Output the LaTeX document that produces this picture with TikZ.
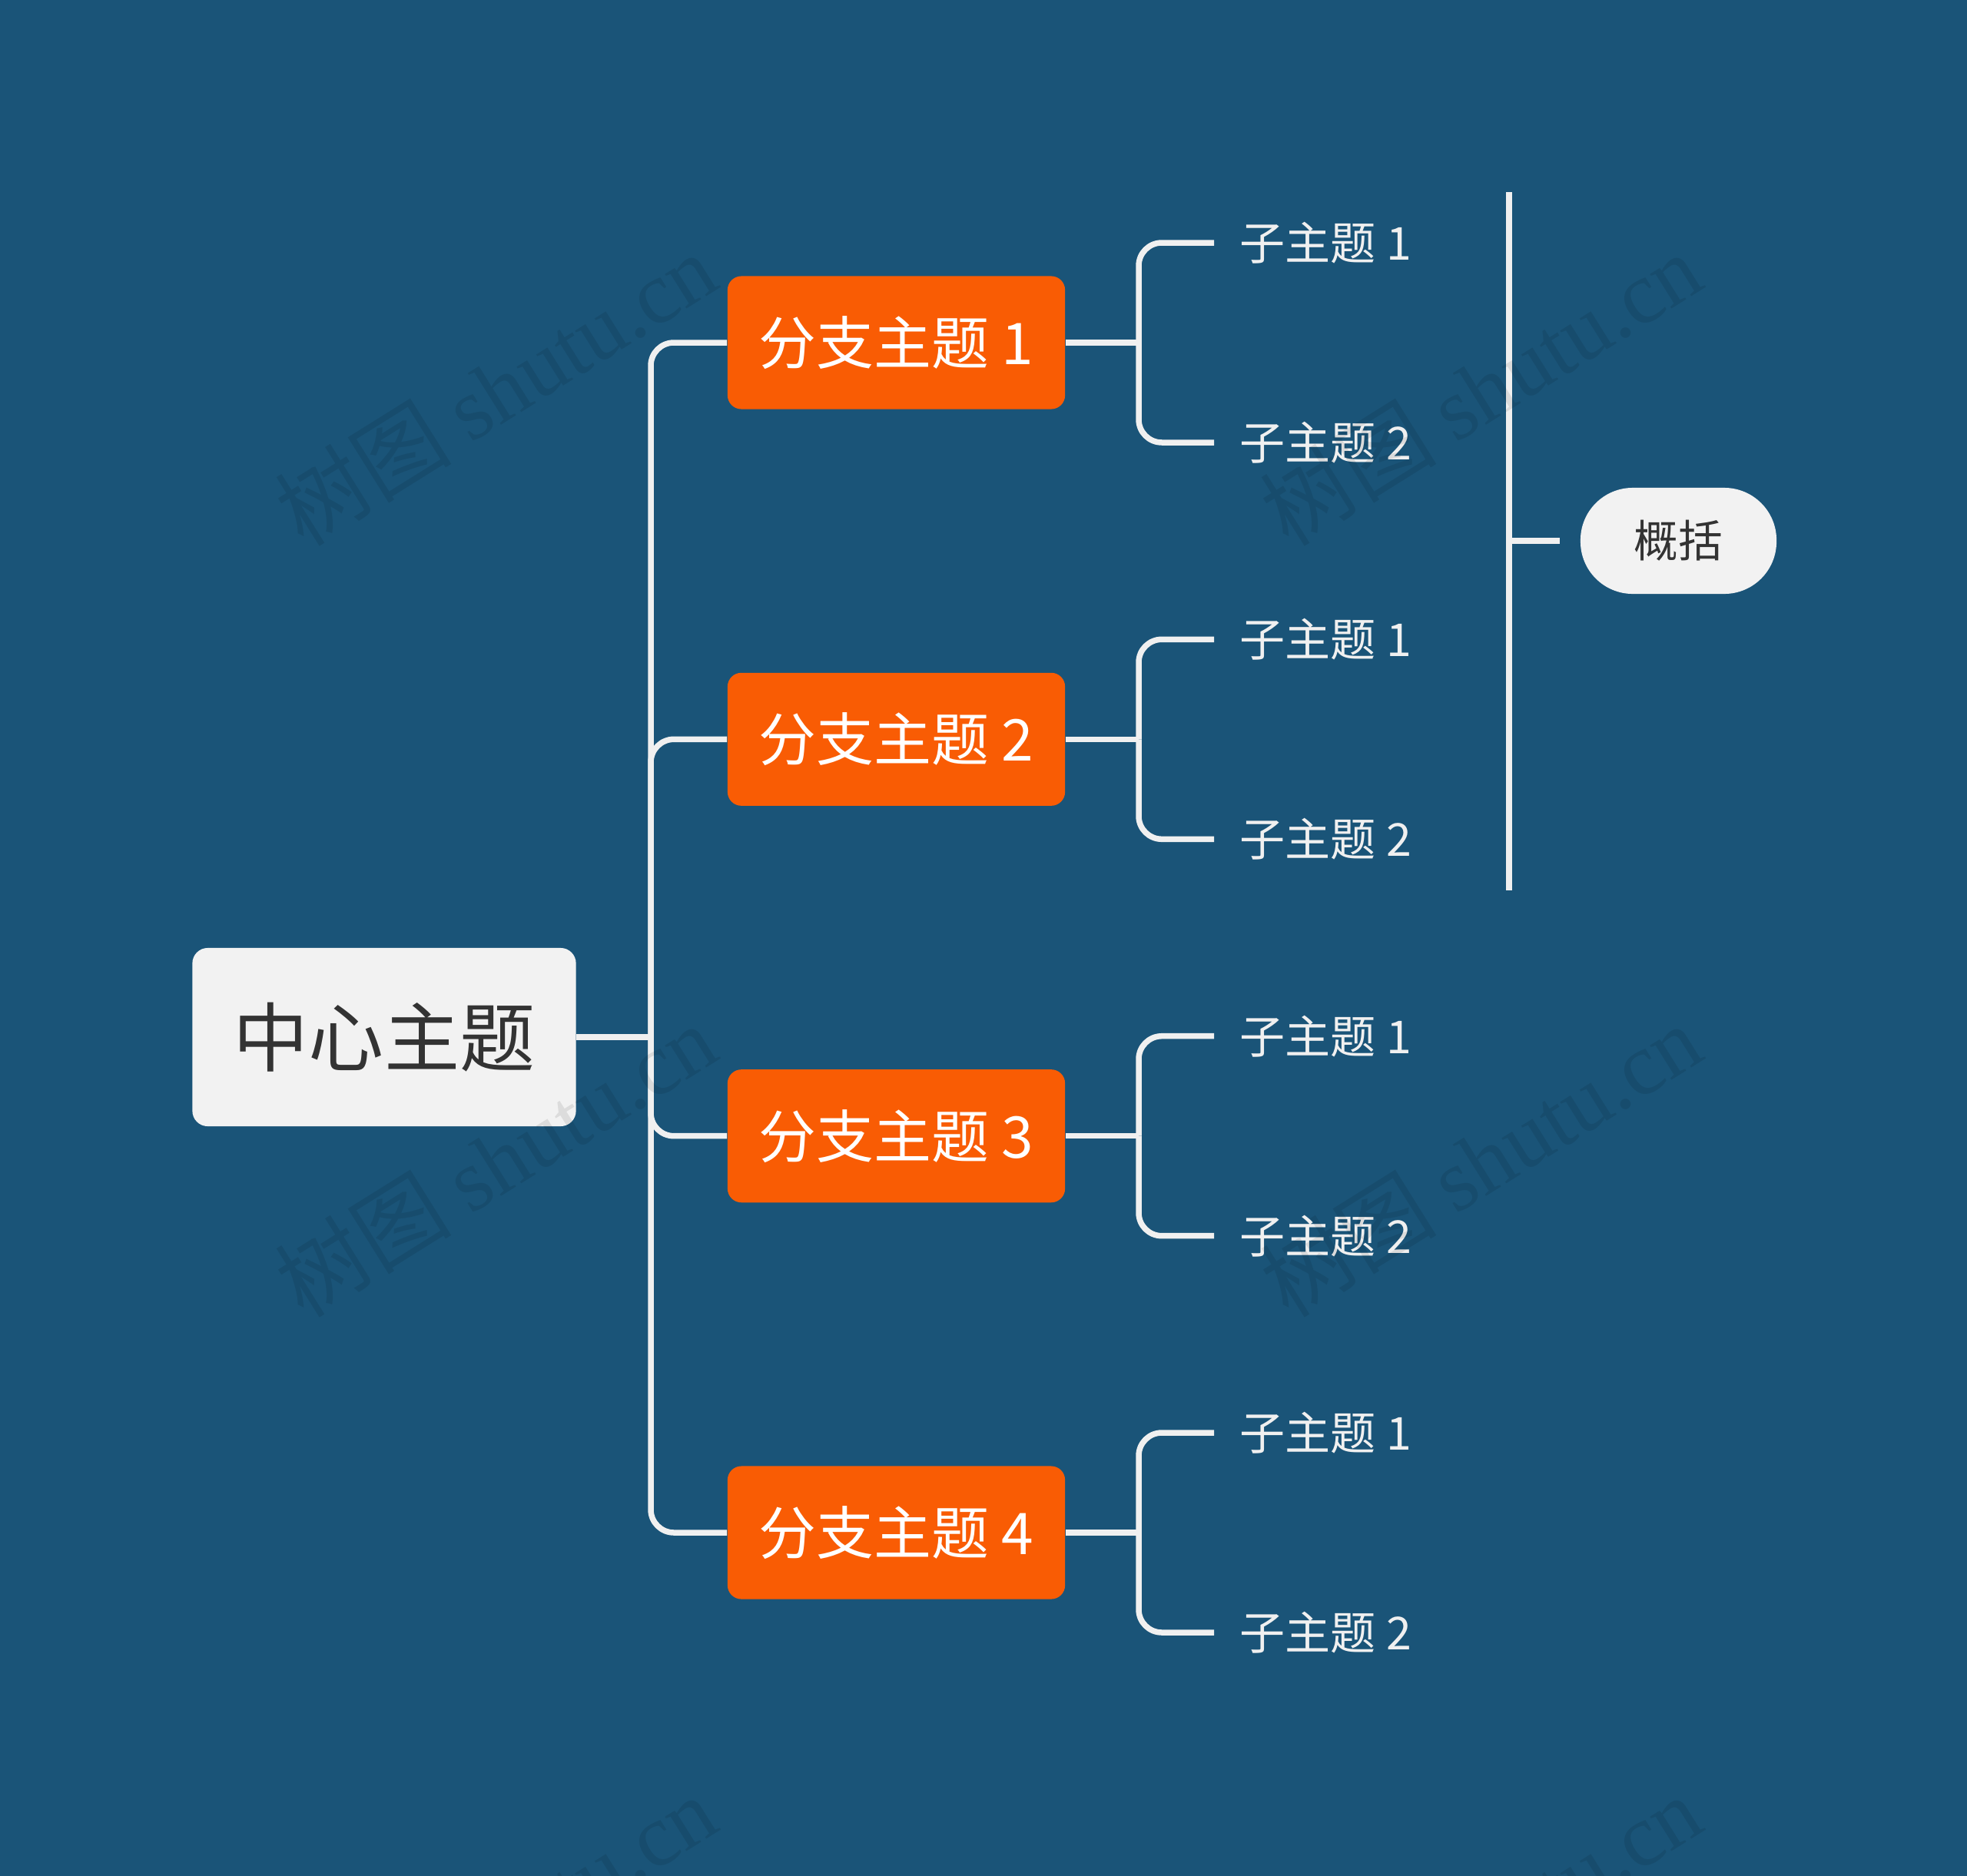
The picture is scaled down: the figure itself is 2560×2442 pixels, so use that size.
\documentclass[tikz,border=0pt]{standalone}
\usepackage{fontspec}
\setmainfont{Noto Sans CJK SC}
\newfontfamily\wmlatin{Liberation Serif}
\newfontfamily\wmcjk{Noto Sans CJK SC}
\definecolor{bgblue}{HTML}{1A5478}
\definecolor{branchorange}{HTML}{F95C04}
\definecolor{nodegray}{HTML}{F2F2F2}
\definecolor{darktext}{HTML}{333333}
\definecolor{linecol}{HTML}{F0F0F0}
\tikzset{
  centralbox/.style={fill=nodegray, rounded corners=0.2cm, minimum width=4.99cm, minimum height=2.32cm, inner sep=0pt, text=darktext, font=\fontsize{27.9}{32}\selectfont},
  branchbox/.style={fill=branchorange, rounded corners=0.18cm, minimum width=4.39cm, minimum height=1.73cm, inner sep=0pt, text=white, font=\fontsize{21.3}{25}\selectfont},
  childtext/.style={anchor=west, inner xsep=0.33cm, inner ysep=0pt, text=linecol, font=\fontsize{16.8}{20}\selectfont},
  summarybox/.style={fill=nodegray, rounded corners=0.68cm, minimum width=2.55cm, minimum height=1.38cm, inner sep=0pt, text=darktext, font=\fontsize{16.4}{20}\selectfont},
  link/.style={draw=linecol, line width=0.075cm, rounded corners=0.3cm},
  straight/.style={draw=linecol, line width=0.075cm},
  watermark/.style={rotate=32, text=black, opacity=0.09, inner sep=0pt, font=\fontsize{32.7}{36}\selectfont}
}
\begin{document}
\begin{tikzpicture}[x=0.01cm, y=-0.01cm]
\fill[bgblue] (0,0) rectangle (2560,2442);
\useasboundingbox (0,0) rectangle (2560,2442);

% central topic
\node[centralbox] (center) at (500,1350) {中心主题};
\coordinate (hub) at (847,1350);

% branches
\node[branchbox] (b1) at (1166.5,446) {分支主题 1};
\node[branchbox] (b2) at (1166.5,962.3) {分支主题 2};
\node[branchbox] (b3) at (1166.5,1478.7) {分支主题 3};
\node[branchbox] (b4) at (1166.5,1995) {分支主题 4};

\draw[straight] (center.east) -- (hub);
\draw[link] (hub) |- (b1.west);
\draw[link] (hub) |- (b2.west);
\draw[link] (hub) |- (b3.west);
\draw[link] (hub) |- (b4.west);

% children
\node[childtext] (c11) at (1580,316) {子主题 1};
\node[childtext] (c12) at (1580,576) {子主题 2};
\node[childtext] (c21) at (1580,832.3) {子主题 1};
\node[childtext] (c22) at (1580,1092.3) {子主题 2};
\node[childtext] (c31) at (1580,1348.7) {子主题 1};
\node[childtext] (c32) at (1580,1608.7) {子主题 2};
\node[childtext] (c41) at (1580,1865) {子主题 1};
\node[childtext] (c42) at (1580,2125) {子主题 2};

\coordinate (j1) at (1482,446);
\coordinate (j2) at (1482,962.3);
\coordinate (j3) at (1482,1478.7);
\coordinate (j4) at (1482,1995);

\draw[straight] (b1.east) -- (j1);
\draw[straight] (b2.east) -- (j2);
\draw[straight] (b3.east) -- (j3);
\draw[straight] (b4.east) -- (j4);
\draw[link] (j1) |- (c11.west);
\draw[link] (j1) |- (c12.west);
\draw[link] (j2) |- (c21.west);
\draw[link] (j2) |- (c22.west);
\draw[link] (j3) |- (c31.west);
\draw[link] (j3) |- (c32.west);
\draw[link] (j4) |- (c41.west);
\draw[link] (j4) |- (c42.west);

% summary
\coordinate (stop) at (1964,250);
\coordinate (sbot) at (1964,1159);
\coordinate (smid) at (1964,704);
\coordinate (send) at (2030,704);
\node[summarybox] (summ) at (2184.5,704) {概括};
\draw[straight] (stop) -- (sbot);
\draw[straight] (smid) -- (send);

% watermarks
\node[watermark] (w1) at (645,506) {{\wmcjk 树图} {\wmlatin shutu.cn}};
\node[watermark] (w2) at (1927,506) {{\wmcjk 树图} {\wmlatin shutu.cn}};
\node[watermark] (w3) at (645,1510) {{\wmcjk 树图} {\wmlatin shutu.cn}};
\node[watermark] (w4) at (1927,1510) {{\wmcjk 树图} {\wmlatin shutu.cn}};
\node[watermark] (w5) at (645,2514) {{\wmcjk 树图} {\wmlatin shutu.cn}};
\node[watermark] (w6) at (1927,2514) {{\wmcjk 树图} {\wmlatin shutu.cn}};
\end{tikzpicture}
\end{document}
